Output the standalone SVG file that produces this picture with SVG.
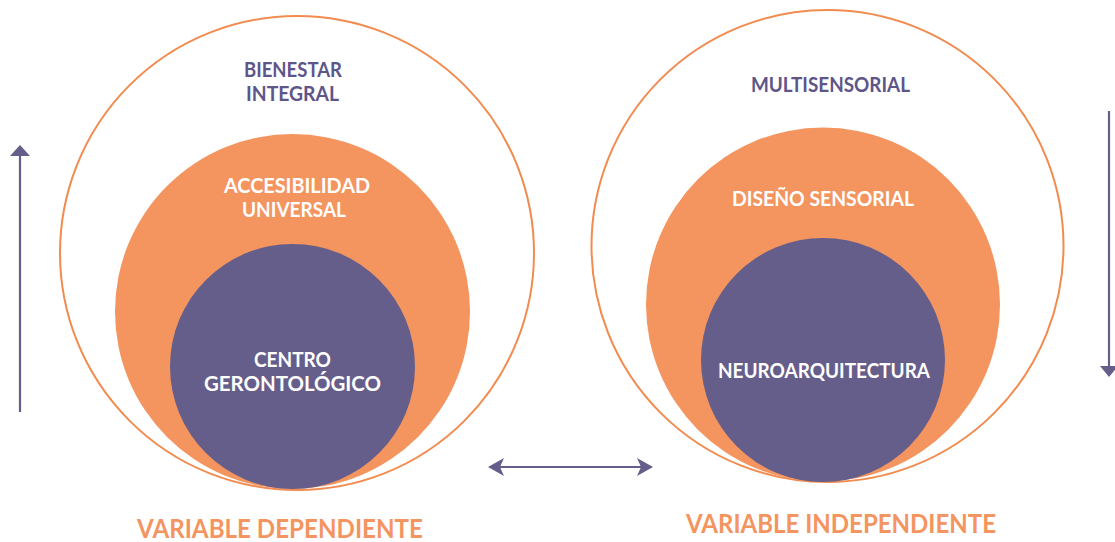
<svg xmlns="http://www.w3.org/2000/svg" width="1115" height="542" viewBox="0 0 1115 542">
  <style>
    .outer { fill: #ffffff; stroke: #F28B4F; stroke-width: 2; }
    .mid { fill: #F4945F; }
    .core { fill: #665E8A; }
    .t { font-family: "Lato", "Liberation Sans", sans-serif; font-weight: 700; text-anchor: middle; }
    .tp { fill: #5E5589; font-size: 20px; }
    .tw { fill: #ffffff; font-size: 20px; }
    .to { fill: #F4945F; font-size: 27px; }
    .ln { stroke: #665E8A; stroke-width: 2.2; fill: none; }
    .hd { fill: #665E8A; }
  </style>
  <rect width="1115" height="542" fill="#ffffff"/>

  <g id="left-diagram">
    <g id="bienestar-integral">
      <circle class="outer" cx="297" cy="253" r="237"/>
      <text class="t tp" x="293" y="77" textLength="98" lengthAdjust="spacingAndGlyphs">BIENESTAR</text>
      <text class="t tp" x="292.5" y="101" textLength="93" lengthAdjust="spacingAndGlyphs">INTEGRAL</text>
    </g>
    <g id="accesibilidad-universal">
      <circle class="mid" cx="292.5" cy="311.5" r="177.5"/>
      <text class="t tw" x="297" y="193" textLength="146" lengthAdjust="spacingAndGlyphs">ACCESIBILIDAD</text>
      <text class="t tw" x="294" y="217" textLength="104" lengthAdjust="spacingAndGlyphs">UNIVERSAL</text>
    </g>
    <g id="centro-gerontologico">
      <circle class="core" cx="292.5" cy="366.5" r="122.5"/>
      <text class="t tw" x="292.5" y="367" textLength="77" lengthAdjust="spacingAndGlyphs">CENTRO</text>
      <text class="t tw" x="292.5" y="391" textLength="177" lengthAdjust="spacingAndGlyphs">GERONTOLÓGICO</text>
    </g>
    <g id="variable-dependiente">
      <text class="t to" x="280" y="538" textLength="286" lengthAdjust="spacingAndGlyphs">VARIABLE DEPENDIENTE</text>
    </g>
  </g>

  <g id="right-diagram">
    <g id="multisensorial">
      <circle class="outer" cx="827.5" cy="246" r="236"/>
      <text class="t tp" x="830.5" y="92" textLength="159" lengthAdjust="spacingAndGlyphs">MULTISENSORIAL</text>
    </g>
    <g id="diseno-sensorial">
      <circle class="mid" cx="823" cy="304.5" r="177"/>
      <text class="t tw" x="823" y="206" textLength="182" lengthAdjust="spacingAndGlyphs">DISEÑO SENSORIAL</text>
    </g>
    <g id="neuroarquitectura">
      <circle class="core" cx="823" cy="360" r="122"/>
      <text class="t tw" x="824" y="378" textLength="212" lengthAdjust="spacingAndGlyphs">NEUROARQUITECTURA</text>
    </g>
    <g id="variable-independiente">
      <text class="t to" x="841" y="533" textLength="310" lengthAdjust="spacingAndGlyphs">VARIABLE INDEPENDIENTE</text>
    </g>
  </g>

  <g id="connectors">
    <line class="ln" x1="20" y1="412" x2="20" y2="154"/>
    <polygon class="hd" points="20,145 30,156 10,156"/>
    <line class="ln" x1="1109" y1="111" x2="1109" y2="367"/>
    <polygon class="hd" points="1100,366 1118,366 1109,377"/>
    <line class="ln" x1="498" y1="467" x2="643" y2="467"/>
    <polygon class="hd" points="488,467 504,458 500,467 504,476"/>
    <polygon class="hd" points="653,467 637,458 641,467 637,476"/>
  </g>
</svg>
